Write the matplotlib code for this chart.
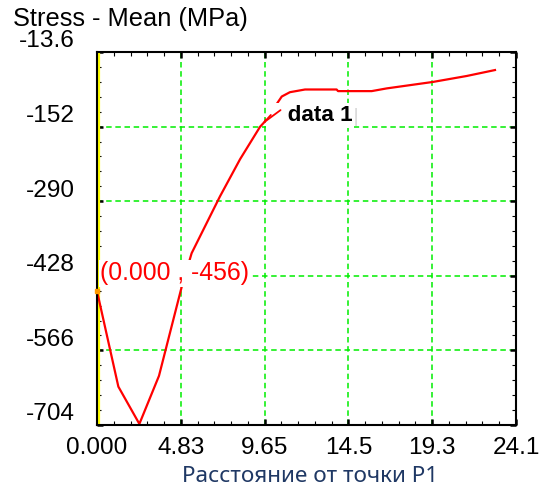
import matplotlib
matplotlib.use("Agg")
import matplotlib.pyplot as plt
from matplotlib.ticker import AutoMinorLocator, FixedLocator
import matplotlib.transforms as mtrans

# ---- data ----
dist = [0.0, 1.23, 2.44, 3.57, 4.88, 5.45, 7.08, 8.24, 9.39, 9.65, 10.64,
        11.11, 11.98, 13.80, 13.88, 15.82, 16.68, 19.35, 21.29, 22.92]
stress = [-456, -633, -702, -613, -448, -386, -281, -212, -152, -143, -96,
          -88, -83, -83, -86, -86, -81, -69, -58, -47]

xtick_vals = [0.0, 4.826, 9.652, 14.478, 19.304, 24.13]
xtick_labels = ["0.000", "4.83", "9.65", "14.5", "19.3", "24.1"]
ytick_vals = [-13.6, -151.68, -289.76, -427.84, -565.92, -704.0]
ytick_labels = ["-13.6", "-152", "-290", "-428", "-566", "-704"]

tip1_x, tip1_y = 0.0, -456
tip2_x, tip2_y = 9.65, -143

title_text = "Stress - Mean (MPa)"
xlabel_text = "Расстояние от точки P1"

W, H = 543, 491
fig = plt.figure(figsize=(W / 100, H / 100), dpi=100)
fig.patch.set_facecolor("white")
ax = fig.add_axes([97 / W, 1 - 425 / H, 419 / W, 373 / H])

ax.set_xlim(xtick_vals[0], xtick_vals[-1])
ax.set_ylim(ytick_vals[-1], ytick_vals[0])

ax.grid(True, which="major", color="#00ee00", linestyle=(0, (3.6, 2.4)),
        linewidth=1.1, zorder=1)
ax.set_axisbelow(True)

# yellow line along the left edge
yl = ax.axvline(0, color="#ffff00", lw=1.6, zorder=2)
yl.set_transform(yl.get_transform() +
                 mtrans.ScaledTranslation(2 / 100, 0, fig.dpi_scale_trans))

ax.plot(dist, stress, color="#ff0000", lw=1.6, zorder=3, solid_joinstyle="round")

# data tip markers
ax.plot([tip1_x], [tip1_y], marker="s", ms=2.5, color="#ff9900", zorder=6,
        clip_on=False)

num_font = "Liberation Sans"

# data tip 1 text
ax.annotate("(0.000 , -456)", xy=(tip1_x, tip1_y), xytext=(2.0, 7.6),
            textcoords="offset points", ha="left", va="baseline",
            fontsize=17.8, color="#ff0000", family=num_font, zorder=5,
            bbox=dict(boxstyle="square,pad=0.05", fc="white", ec="none"))

# data tip 2 text
ax.annotate("   data 1", xy=(tip2_x, tip2_y), xytext=(2.9, 0.6),
            textcoords="offset points", ha="left", va="baseline",
            fontsize=16.2, color="black", weight="bold", family=num_font,
            zorder=5,
            bbox=dict(boxstyle="square,pad=0.1", fc="white", ec="none"))
ax.annotate("", xy=(tip2_x, tip2_y), xytext=(11.5, 8.5),
            textcoords="offset points",
            arrowprops=dict(arrowstyle="-", color="#ff0000", lw=1.3,
                            shrinkA=0, shrinkB=0), zorder=6)
ax.annotate("", xy=(tip2_x, tip2_y), xytext=(4.5, 5.0),
            textcoords="offset points", zorder=6,
            arrowprops=dict(arrowstyle="-", color="#ff0000", lw=1.3,
                            shrinkA=0, shrinkB=0,
                            connectionstyle="arc3,rad=0"))
ax.annotate("|", xy=(tip2_x, tip2_y), xytext=(63.5, 0.0),
            textcoords="offset points", ha="left", va="baseline",
            fontsize=13, color="#b0b0b0", family="DejaVu Sans", weight="light",
            zorder=6)

# ticks
ax.xaxis.set_major_locator(FixedLocator(xtick_vals))
ax.yaxis.set_major_locator(FixedLocator(ytick_vals))
ax.set_xticklabels(xtick_labels)
ax.set_yticklabels(ytick_labels)
ax.xaxis.set_minor_locator(AutoMinorLocator(5))
ax.yaxis.set_minor_locator(AutoMinorLocator(5))
ax.tick_params(which="both", direction="in", top=True, right=True,
               colors="black")
ax.tick_params(which="major", length=4.5, width=1.8)
ax.tick_params(which="minor", length=2.8, width=0.8)
ax.tick_params(axis="x", which="major", pad=9, labelsize=17.6)
ax.tick_params(axis="y", which="major", pad=16, labelsize=17.6)
for lab in ax.get_xticklabels() + ax.get_yticklabels():
    lab.set_family(num_font)

off = mtrans.ScaledTranslation(0, 13 / 100, fig.dpi_scale_trans)
for t in ax.yaxis.get_major_ticks():
    t.label1.set_transform(t.label1.get_transform() + off)

for s in ax.spines.values():
    s.set_linewidth(1.5)
    s.set_color("black")
    s.set_zorder(4)

fig.text(13 / W, 1 - 26 / H, title_text, ha="left", va="baseline",
         fontsize=18.3, family=num_font, color="black")
fig.text(310 / W, 1 - 482 / H, xlabel_text, ha="center", va="baseline",
         fontsize=16.2, family="Noto Sans", color="#1f3864")

fig.savefig("out.png", dpi=100, facecolor="white")
